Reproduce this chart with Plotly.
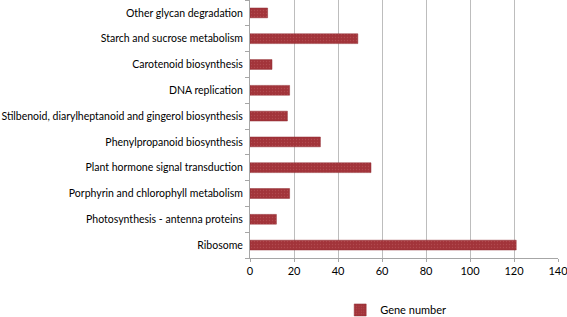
import plotly.graph_objects as go

categories = [
    "Ribosome",
    "Photosynthesis - antenna proteins",
    "Porphyrin and chlorophyll metabolism",
    "Plant hormone signal transduction",
    "Phenylpropanoid biosynthesis",
    "Stilbenoid, diarylheptanoid and gingerol biosynthesis",
    "DNA replication",
    "Carotenoid biosynthesis",
    "Starch and sucrose metabolism",
    "Other glycan degradation",
]
gene_number = [121, 12, 18, 55, 32, 17, 18, 10, 49, 8]
x_ticks = [0, 20, 40, 60, 80, 100, 120, 140]

fig = go.Figure()
fig.add_trace(go.Bar(
    y=categories, x=gene_number, orientation="h",
    name="Gene number",
    marker=dict(color="#A2343A", line=dict(color="#8E2A30", width=0.5),
                pattern=dict(shape=".", fgcolor="#BE5F63", size=3, solidity=0.15)),
    width=0.38,
    showlegend=True,
))

fig.update_layout(
    width=567, height=317,
    margin=dict(l=250, r=9, t=0, b=59),
    paper_bgcolor="white", plot_bgcolor="white",
    font=dict(family="Lato, Open Sans, sans-serif", size=11, color="black"),
    showlegend=True,
    legend=dict(orientation="h", xref="container", yref="container",
                x=0.6, xanchor="left", y=0.068, yanchor="top",
                font=dict(size=11), itemwidth=30),
)
fig.update_xaxes(
    range=[0, 140], tickvals=x_ticks, showgrid=True, gridcolor="#BDBDBD", gridwidth=1,
    zeroline=False, showline=True, linecolor="#A6A6A6", ticks="outside", ticklen=3,
    tickcolor="#A6A6A6", tickfont=dict(size=11), automargin=False,
    ticklabeloverflow="allow",
)
fig.update_yaxes(
    type="category", showgrid=False, showline=True, linecolor="#A6A6A6",
    ticks="outside", ticklen=4, tickcolor="#A6A6A6", tickson="boundaries",
    tickfont=dict(size=10.5), automargin=False, ticklabelstandoff=4,
)
fig.write_html("out.html", config={"displayModeBar": False},
               post_script="document.body.style.margin='0';")
